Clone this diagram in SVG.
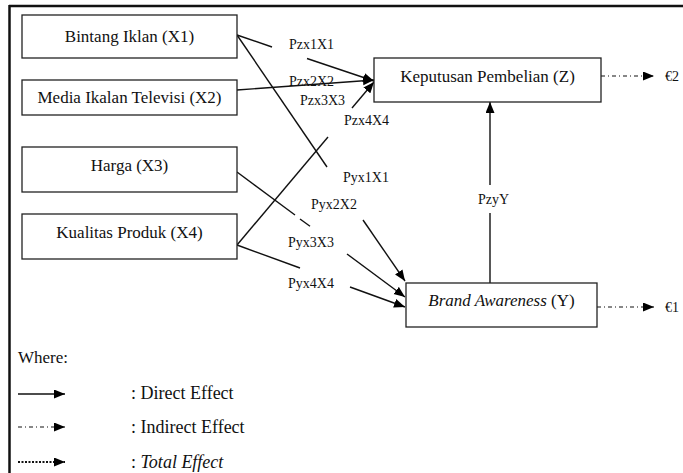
<svg xmlns="http://www.w3.org/2000/svg" width="683" height="473" viewBox="0 0 683 473">
<style>
text{font-family:"Liberation Serif","Times New Roman",serif;fill:#111}
.box{fill:#fff;stroke:#222;stroke-width:1.3}
.bt{font-size:17px;text-anchor:middle}
.lbl{font-size:14px}
.ln{stroke:#111;stroke-width:1.4;fill:none}
.dd{stroke:#111;stroke-width:1.2;fill:none;stroke-dasharray:4 3 1 3}
.dot{stroke:#111;stroke-width:2;fill:none;stroke-dasharray:2 1.5}
.leg{font-size:18px}
</style>
<defs>
<marker id="ah" markerUnits="userSpaceOnUse" markerWidth="12" markerHeight="10" refX="11" refY="4.5" orient="auto"><path d="M0,0 L11,4.5 L0,9 z" fill="#000"/></marker>
</defs>
<rect width="683" height="473" fill="#fff"/>
<g id="frame"><line x1="9" y1="6" x2="683" y2="6" stroke="#111" stroke-width="2.5"/><line x1="9.5" y1="5" x2="9.5" y2="473" stroke="#111" stroke-width="2.5"/></g>
<g id="connectors">
<line class="ln" x1="237" y1="35" x2="272" y2="47"/>
<line class="ln" x1="307" y1="58.5" x2="374" y2="81" marker-end="url(#ah)"/>
<line class="ln" x1="237" y1="90" x2="374" y2="80" marker-end="url(#ah)"/>
<line class="ln" x1="237" y1="245" x2="328" y2="137"/>
<line class="ln" x1="352" y1="108" x2="374" y2="82" marker-end="url(#ah)"/>
<line class="ln" x1="237" y1="35" x2="327" y2="167"/>
<line class="ln" x1="363" y1="220" x2="405" y2="281" marker-end="url(#ah)"/>
<line class="ln" x1="237" y1="172" x2="295" y2="215"/>
<line class="ln" x1="300" y1="219" x2="310" y2="226.3"/>
<line class="ln" x1="347" y1="254" x2="405" y2="297" marker-end="url(#ah)"/>
<line class="ln" x1="237" y1="245" x2="300" y2="268"/>
<line class="ln" x1="350" y1="287" x2="405" y2="307" marker-end="url(#ah)"/>
<line class="ln" x1="490" y1="283" x2="490" y2="213"/>
<line class="ln" x1="490" y1="185" x2="490" y2="102" marker-end="url(#ah)"/>
<line class="dd" x1="601" y1="76" x2="654" y2="76" marker-end="url(#ah)"/>
<line class="dd" x1="597" y1="307" x2="654" y2="307" marker-end="url(#ah)"/>
</g>
<g id="labels">
<text class="lbl" x="289" y="49">Pzx1X1</text>
<text class="lbl" x="289" y="86">Pzx2X2</text>
<text class="lbl" x="300" y="105">Pzx3X3</text>
<text class="lbl" x="344" y="125">Pzx4X4</text>
<text class="lbl" x="343" y="182">Pyx1X1</text>
<text class="lbl" x="311" y="209">Pyx2X2</text>
<text class="lbl" x="288" y="247">Pyx3X3</text>
<text class="lbl" x="288" y="288">Pyx4X4</text>
<text class="lbl" x="478" y="204">PzyY</text>
<text class="lbl" x="665" y="81">€2</text>
<text class="lbl" x="665" y="312">€1</text>
</g>
<g id="x1"><rect class="box" x="22" y="15" width="215" height="43"/><text class="bt" x="129.5" y="42">Bintang Iklan (X1)</text></g>
<g id="x2"><rect class="box" x="22" y="80" width="215" height="35"/><text class="bt" x="129.5" y="103">Media Ikalan Televisi (X2)</text></g>
<g id="x3"><rect class="box" x="22" y="147" width="215" height="45"/><text class="bt" x="129.5" y="171">Harga (X3)</text></g>
<g id="x4"><rect class="box" x="22" y="214" width="215" height="45"/><text class="bt" x="129.5" y="238">Kualitas Produk (X4)</text></g>
<g id="z"><rect class="box" x="374" y="58" width="227" height="44"/><text class="bt" x="487.5" y="82">Keputusan Pembelian (Z)</text></g>
<g id="y"><rect class="box" x="406" y="283" width="191" height="44"/><text class="bt" x="501.5" y="306"><tspan font-style="italic">Brand Awareness</tspan> (Y)</text></g>
<g id="legend">
<text x="18" y="363" style="font-size:17px">Where:</text>
<line class="ln" x1="18" y1="394" x2="65" y2="394" marker-end="url(#ah)"/>
<text class="leg" x="131" y="399">: Direct Effect</text>
<line class="dd" x1="18" y1="427" x2="65" y2="427" marker-end="url(#ah)"/>
<text class="leg" x="131" y="433">: Indirect Effect</text>
<line class="dot" x1="18" y1="462" x2="65" y2="462" marker-end="url(#ah)"/>
<text class="leg" x="131" y="468">: <tspan font-style="italic">Total Effect</tspan></text>
</g>
</svg>
